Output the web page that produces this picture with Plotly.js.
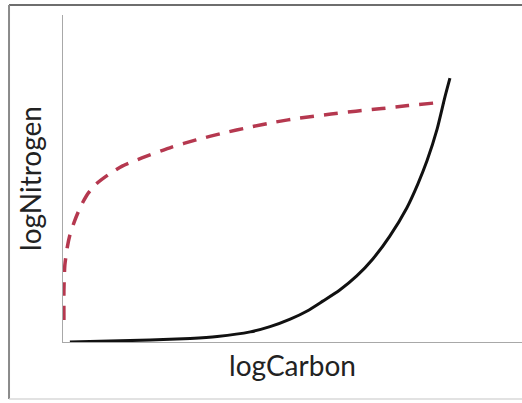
<!DOCTYPE html>
<html>
<head>
<meta charset="utf-8">
<script src="https://cdn.plot.ly/plotly-3.0.1.min.js"></script>
<style>html,body{margin:0;padding:0;background:#fff;}#chart{width:522px;height:403px;}</style>
</head>
<body>
<div id="chart"></div>
<script>
// Red dashed curve (logarithmic-like rise)
const redX = [0.2, 0.2, 0.4, 0.9, 1.5, 2.6, 3.9, 5.4, 7.2, 9.8, 12.9, 17.2, 23.7, 29.0, 34.9, 40.7, 46.4, 51.6, 58.4, 63.8, 69.5, 75.2, 83.2];
const redY = [6.7, 15.9, 23.5, 28.7, 32.7, 37.3, 41.6, 45.3, 48.3, 51.1, 53.8, 56.3, 59.6, 61.8, 63.9, 65.7, 67.3, 68.5, 69.7, 70.6, 71.4, 72.3, 73.4];
// Black solid curve (exponential-like rise)
const blackX = [1.5, 10.2, 19.0, 27.7, 33.6, 40.8, 45.1, 49.5, 53.2, 56.6, 60.3, 64.0, 67.5, 71.2, 74.9, 77.3, 79.3, 81.5, 83.2, 84.3];
const blackY = [0.0, 0.3, 0.6, 1.1, 1.7, 3.1, 4.7, 7.0, 9.5, 12.5, 15.9, 20.2, 25.4, 32.4, 41.0, 48.3, 55.4, 65.1, 74.9, 80.7];
const xLabel = "logCarbon";
const yLabel = "logNitrogen";

const traces = [
  {x: redX, y: redY, mode: "lines", type: "scatter", name: "N",
   line: {color: "#b5384f", width: 3.5, dash: "14px,10px", shape: "spline", smoothing: 0.6}, hoverinfo: "skip"},
  {x: blackX, y: blackY, mode: "lines", type: "scatter", name: "C",
   line: {color: "#111111", width: 3, shape: "spline", smoothing: 0.6}, hoverinfo: "skip"}
];

const layout = {
  width: 522, height: 403,
  margin: {l: 63, r: 0, t: 15, b: 61},
  paper_bgcolor: "#ffffff", plot_bgcolor: "#ffffff",
  showlegend: false,
  font: {family: "Lato, 'Open Sans', sans-serif", color: "#222"},
  xaxis: {range: [0, 100], showgrid: false, zeroline: false, showticklabels: false, ticks: "",
          showline: true, linecolor: "#a8a8a8", linewidth: 1.2,
          title: {text: xLabel, font: {size: 28, color: "#222"}, standoff: 14}},
  yaxis: {range: [0, 100], showgrid: false, zeroline: false, showticklabels: false, ticks: "",
          showline: true, linecolor: "#a8a8a8", linewidth: 1.2,
          title: {text: yLabel, font: {size: 28, color: "#222"}, standoff: 12}},
  shapes: [
    {type: "line", xref: "paper", yref: "paper", x0: -0.1176, x1: 1.02, y0: 1.0306, y1: 1.0306, line: {color: "#6e6e6e", width: 2}},
    {type: "line", xref: "paper", yref: "paper", x0: -0.1176, x1: -0.1176, y0: 1.0306, y1: -0.174, line: {color: "#8a8a8a", width: 2}},
    {type: "line", xref: "paper", yref: "paper", x0: -0.1176, x1: 1.02, y0: -0.174, y1: -0.174, line: {color: "#d8d8d8", width: 1.5}}
  ]
};

Plotly.newPlot("chart", traces, layout, {staticPlot: true, displayModeBar: false});
</script>
</body>
</html>
